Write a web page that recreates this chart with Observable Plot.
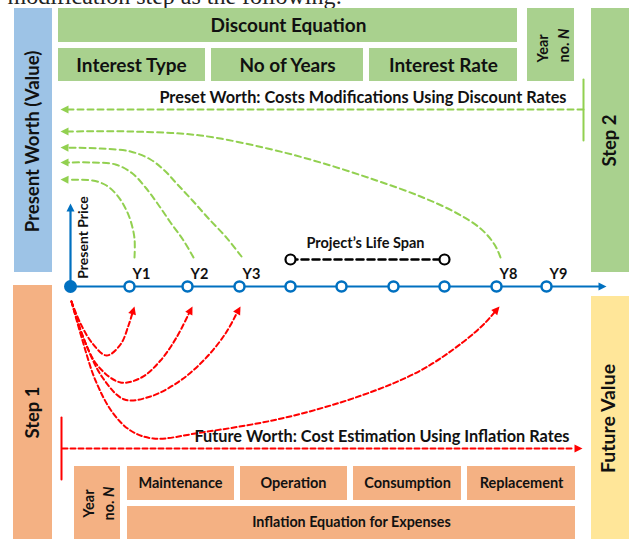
<!DOCTYPE html>
<html><head><meta charset="utf-8">
<script src="https://cdn.jsdelivr.net/npm/d3@7"></script>
<script src="https://cdn.jsdelivr.net/npm/@observablehq/plot@0.6"></script>
<style>body{margin:0;background:#fff} svg{display:block}</style>
</head><body><div id="chart"></div>
<script>
// ---- diagram content ----
const topLine = "modification step as the following:";
const discountHeader = "Discount Equation";
const discountCells = ["Interest Type", "No of Years", "Interest Rate"];
const inflationCells = ["Maintenance", "Operation", "Consumption", "Replacement"];
const inflationFooter = "Inflation Equation for Expenses";
const yearBoxLabel = "Year\nno. N";
const sideLabels = ["Present Worth (Value)", "Step 2", "Step 1", "Future Value"];
const presetLabel = "Preset Worth: Costs Modifications Using Discount Rates";
const futureLabel = "Future Worth: Cost Estimation Using Inflation Rates";
const lifeSpanLabel = "Project\u2019s Life Span";
const axisLabel = "Present Price";
const yearLabels = ["Y1", "Y2", "Y3", "", "", "", "", "Y8", "Y9"];
const arrowYears = ["Y1", "Y2", "Y3", "Y8"];

// ---- layout (diagram units = pixels) ----
const W = 629, H = 539;
const C = {green:"#a9d18e", blue:"#9dc3e6", orange:"#f4b183", yellow:"#ffe699",
           axis:"#0070c0", dGreen:"#92d050", red:"#ff0000", text:"#111"};
const originX = 70, axisY = 286;
const nodeX = [129, 187, 239, 290, 341, 393, 444, 496, 546];

const boxes = [
  {x1:14, x2:52, y1:8, y2:272, fill:C.blue},
  {x1:591, x2:629, y1:8, y2:272, fill:C.green},
  {x1:13, x2:52, y1:285, y2:539, fill:C.orange},
  {x1:591, x2:629, y1:296, y2:539, fill:C.yellow},
  {x1:58, x2:517, y1:8, y2:42, fill:C.green},
  {x1:58, x2:205, y1:48, y2:81, fill:C.green},
  {x1:211, x2:363, y1:48, y2:81, fill:C.green},
  {x1:369, x2:517, y1:48, y2:81, fill:C.green},
  {x1:527, x2:574, y1:8, y2:81, fill:C.green},
  {x1:74, x2:120, y1:466, y2:539, fill:C.orange},
  {x1:127, x2:234, y1:466, y2:500, fill:C.orange},
  {x1:240, x2:347, y1:466, y2:500, fill:C.orange},
  {x1:353, x2:461, y1:466, y2:500, fill:C.orange},
  {x1:467, x2:575, y1:466, y2:500, fill:C.orange},
  {x1:127, x2:575, y1:506, y2:539, fill:C.orange}
];

// discount (green) curves: from year back to present worth axis
const greenCurves = {
  Y1: [[134,257],[134,238],[130,220],[124,206],[116,194],[106,185],[92,180],[60,179]],
  Y2: [[193,257],[183,240],[170,222],[157,203],[145,187],[132,173],[115,164],[90,162],[60,162]],
  Y3: [[241,256],[225,236],[208,218],[192,200],[177,184],[164,170],[150,159],[130,151],[100,148],[60,147]],
  Y8: [[500,257],[494,244],[480,228],[455,212],[420,196],[373,179],[320,162],[267,148],[200,135],[130,131],[60,131]]
};
// inflation (red) curves: from present price to each year
const redCurves = {
  Y1: [[71,301],[80,323],[92,343],[106,355],[120,344],[128,325],[134,306]],
  Y2: [[71,301],[82,335],[97,365],[120,382],[141,377],[160,360],[176,337],[192,306]],
  Y3: [[71,301],[84,340],[102,377],[124,399],[150,396],[180,380],[205,358],[225,333],[240,306]],
  Y8: [[71,301],[82,340],[95,380],[112,412],[130,430],[153,438],[201,432],[281,418],[361,395],[420,370],[462,342],[485,322],[499,306]]
};
const greenStraight = [[583,109],[60,109]];
const redStraight = [[62,448],[582,448]];
const timeline = [[originX,axisY],[606,axisY]];
const vAxis = [[originX,axisY],[originX,203]];
const lifeSpan = [[290,259],[444,259]];

// ---- helpers ----
const AL = 8, AW = 4;
function trimAndHead(pts, id, len=AL, hw=AW) {
  const n = pts.length, tip = pts[n-1], prev = pts[n-2];
  let dx = tip[0]-prev[0], dy = tip[1]-prev[1];
  const m = Math.hypot(dx, dy); dx/=m; dy/=m;
  const base = [tip[0]-dx*len, tip[1]-dy*len];
  const line = pts.slice(0, n-1).concat([base]).map(([x,y]) => ({x, y, id}));
  const head = [tip, [base[0]-dy*hw, base[1]+dx*hw], [base[0]+dy*hw, base[1]-dx*hw]].map(([x,y]) => ({x, y, id}));
  return {line, head};
}
function build(curves, prefix) {
  const lines = [], heads = [];
  for (const [k, pts] of curves) {
    const r = trimAndHead(pts, prefix + k);
    lines.push(...r.line); heads.push(...r.head);
  }
  return {lines, heads};
}
const G = build(arrowYears.map(k => [k, greenCurves[k]]), "g");
const R = build(arrowYears.map(k => [k, redCurves[k]]), "r");
const GS = build([["s", greenStraight]], "gs");
const RS = build([["s", redStraight]], "rs");
const TL = build([["t", timeline], ["v", vAxis]], "t");

const texts = [
  {x:288, y:25, t:discountHeader, s:19, r:0},
  ...discountCells.map((t,i) => ({x:[131,287,443][i], y:65, t, s:19, r:0})),
  ...inflationCells.map((t,i) => ({x:[180,293,407,521][i], y:483, t, s:14.5, r:0})),
  {x:351, y:522, t:inflationFooter, s:14.3, r:0},
  {x:33, y:141, t:sideLabels[0], s:18.6, r:-90},
  {x:610, y:140, t:sideLabels[1], s:18.5, r:-90},
  {x:33, y:412, t:sideLabels[2], s:18.5, r:-90},
  {x:608, y:418, t:sideLabels[3], s:19.5, r:-90},
  {x:365, y:243, t:lifeSpanLabel, s:14.5, r:0},
  {x:83, y:237, t:axisLabel, s:14, r:-90},
  ...yearLabels.map((t,i) => ({x:nodeX[i]+12, y:274, t, s:14.5, r:0})).filter(d => d.t)
];

const svg = Plot.plot({
  width: W, height: H, margin: 0,
  x: {domain:[0,W], range:[0,W], axis:null},
  y: {domain:[0,H], range:[0,H], axis:null},
  color: {type:"identity"},
  style: {fontFamily:"Lato", background:"#fff", color:C.text, overflow:"hidden"},
  marks: [
    Plot.text([topLine], {x:()=>7, y:()=>3, text:d=>d, textAnchor:"start", lineAnchor:"bottom", fontSize:24, fontFamily:"Liberation Serif", fill:"#222"}),
    Plot.rect(boxes, {x1:"x1", x2:"x2", y1:"y1", y2:"y2", fill:"fill"}),
    // green discount curves
    Plot.line(G.lines, {x:"x", y:"y", z:"id", curve:"catmull-rom", stroke:C.dGreen, strokeWidth:2, strokeDasharray:"6,4"}),
    Plot.line(G.heads, {x:"x", y:"y", z:"id", fill:C.dGreen, stroke:"none"}),
    Plot.line(GS.lines, {x:"x", y:"y", z:"id", stroke:C.dGreen, strokeWidth:2, strokeDasharray:"6,4"}),
    Plot.line(GS.heads, {x:"x", y:"y", z:"id", fill:C.dGreen, stroke:"none"}),
    Plot.line([[583,79],[583,140]], {x:d=>d[0], y:d=>d[1], stroke:C.dGreen, strokeWidth:2}),
    // red inflation curves
    Plot.line(R.lines, {x:"x", y:"y", z:"id", curve:"catmull-rom", stroke:C.red, strokeWidth:2, strokeDasharray:"5,3"}),
    Plot.line(R.heads, {x:"x", y:"y", z:"id", fill:C.red, stroke:"none"}),
    Plot.line(RS.lines, {x:"x", y:"y", z:"id", stroke:C.red, strokeWidth:2, strokeDasharray:"5,3"}),
    Plot.line(RS.heads, {x:"x", y:"y", z:"id", fill:C.red, stroke:"none"}),
    Plot.line([[61,417],[61,479]], {x:d=>d[0], y:d=>d[1], stroke:C.red, strokeWidth:2}),
    // timeline
    Plot.line(TL.lines, {x:"x", y:"y", z:"id", stroke:C.axis, strokeWidth:2.2}),
    Plot.line(TL.heads, {x:"x", y:"y", z:"id", fill:C.axis, stroke:"none"}),
    Plot.dot([originX], {x:d=>d, y:()=>axisY, r:6.5, fill:C.axis, stroke:"none"}),
    Plot.dot(nodeX, {x:d=>d, y:()=>axisY, r:5, fill:"white", stroke:C.axis, strokeWidth:2.5}),
    // life span
    Plot.line(lifeSpan, {x:d=>d[0], y:d=>d[1], stroke:"black", strokeWidth:2.5, strokeDasharray:"7,4"}),
    Plot.dot(lifeSpan, {x:d=>d[0], y:d=>d[1], r:5, fill:"white", stroke:"black", strokeWidth:2.2}),
    // labels
    Plot.text(texts, {x:"x", y:"y", text:"t", fontSize:"s", rotate:"r", fontWeight:"bold", fill:C.text}),
    Plot.text([presetLabel], {x:()=>566, y:()=>97, text:d=>d, textAnchor:"end", fontSize:16.3, fontWeight:"bold", fill:C.text}),
    Plot.text([futureLabel], {x:()=>569, y:()=>436, text:d=>d, textAnchor:"end", fontSize:16.3, fontWeight:"bold", fill:C.text}),
    Plot.text([yearBoxLabel], {x:()=>551, y:()=>62, text:d=>d, rotate:-90, textAnchor:"start", fontSize:14.5, lineHeight:1.5, fontWeight:"bold", fill:C.text}),
    Plot.text([yearBoxLabel], {x:()=>97.5, y:()=>503, text:d=>d, rotate:-90, fontSize:14.5, lineHeight:1.35, fontWeight:"bold", fill:C.text})
  ]
});
d3.select(svg).selectAll("tspan").each(function() {
  if (this.textContent === "no. N") {
    const s = d3.select(this);
    s.text("no. ");
    s.append("tspan").attr("font-style", "italic").text("N");
  }
});
document.getElementById("chart").appendChild(svg);
</script></body></html>
